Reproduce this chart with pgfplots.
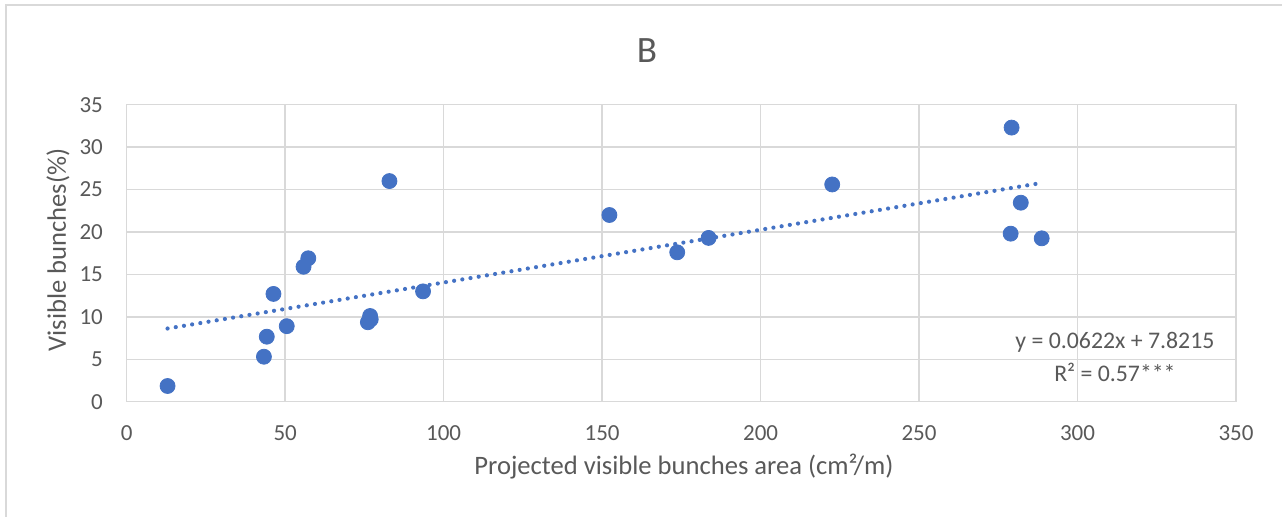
\documentclass[border=0pt]{standalone}
\usepackage{fontspec}
\setmainfont{Carlito}
\usepackage{pgfplots}
\pgfplotsset{compat=1.18}

\definecolor{markblue}{HTML}{4472C4}
\definecolor{gridgray}{HTML}{D9D9D9}
\definecolor{textgray}{HTML}{595959}

% visible bunches (%) against projected visible bunches area (cm^2/m)
\pgfplotstableread{
x      y
12.9   1.85
43.3   5.3
44.2   7.66
46.3   12.7
50.5   8.9
55.8   15.9
57.3   16.9
76.1   9.36
76.8   10.1
77.0   9.7
82.9   26.0
93.5   13.0
152.3  22.0
173.7  17.6
183.6  19.3
222.6  25.6
279.2  32.3
282.1  23.45
278.9  19.8
288.7  19.25
}\bunches

% linear fit y = 0.0622x + 7.8215 over the range of the data
\pgfplotstableread{
x      y
12.9   8.624
288.7  25.779
}\trend

\begin{document}
\begin{tikzpicture}[x=1pt,y=1pt]
% page extent and chart frame
\path[use as bounding box] (-63.35,-57.65) rectangle (577.65,200.85);
\draw[gridgray, line width=0.8pt] (-60.35,-60) -- (-60.35,198.35) -- (580,198.35);

\begin{axis}[
  at={(0,0)}, anchor=south west,
  scale only axis,
  width=554.65pt, height=148.5pt,
  xmin=0, xmax=350, ymin=0, ymax=35,
  xtick distance=50, ytick distance=5,
  grid=major,
  major grid style={gridgray, line width=0.7pt},
  axis line style={gridgray, line width=0.8pt},
  major tick length=0pt,
  tick label style={font=\fontsize{11.5}{13}\selectfont, text=textgray, inner sep=0pt},
  x tick label style={anchor=center, yshift=-15.65pt},
  y tick label style={anchor=east, xshift=-11.7pt},
  /pgf/number format/assume math mode=true,
  clip=false,
]
\addplot[only marks, mark=*, mark size=3.75pt, mark options={fill=markblue, draw=markblue}]
  table[x=x, y=y] {\bunches};
\addplot[markblue, line width=2.1pt, line cap=round, dash pattern=on 0pt off 4.15pt]
  table[x=x, y=y] {\trend};
\node[text=textgray, font=\fontsize{11.9}{14}\selectfont, anchor=center]
  at (axis cs:311.8,6.98) {y = 0.0622x + 7.8215};
\node[text=textgray, font=\fontsize{11.9}{14}\selectfont, anchor=center]
  at (axis cs:311.8,3.5) {R² = 0.57***};
\end{axis}

% title and axis titles
\node[text=textgray, font=\fontsize{18.6}{22}\selectfont, anchor=center] at (260.15,175.35) {B};
\node[text=textgray, font=\fontsize{13.3}{16}\selectfont, anchor=base] at (278.65,-36.65)
  {Projected visible bunches area (cm²/m)};
\node[text=textgray, font=\fontsize{13.3}{16}\selectfont, anchor=center, rotate=90] at (-34.35,75.85)
  {Visible bunches(\%)};
\end{tikzpicture}
\end{document}
